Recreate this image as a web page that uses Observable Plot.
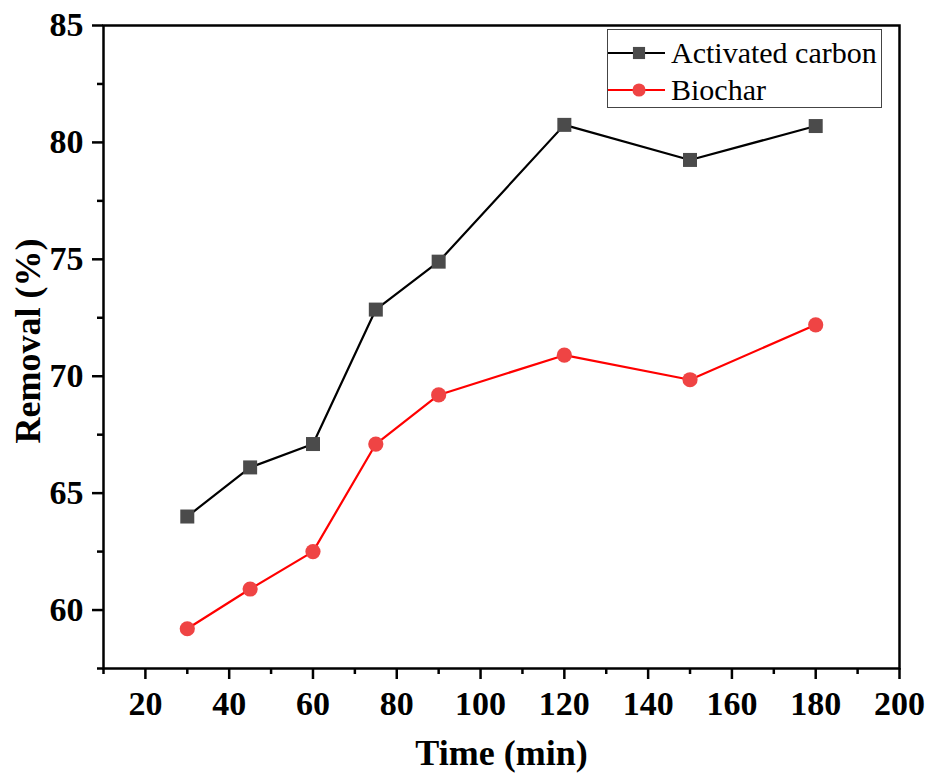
<!DOCTYPE html>
<html>
<head>
<meta charset="utf-8">
<script src="https://cdn.jsdelivr.net/npm/d3@7"></script>
<script src="https://cdn.jsdelivr.net/npm/@observablehq/plot@0.6"></script>
<style>
  html, body { margin: 0; padding: 0; background: #fff; }
  #wrap { position: relative; width: 925px; height: 778px; font-family: "Liberation Serif", "Times New Roman", serif; }
  #legend { position: absolute; left: 607px; top: 29px; width: 273px; height: 77px; border: 1.5px solid #444; background: #fff; box-sizing: content-box; }
  .row { position: absolute; left: 0; height: 36px; display: flex; align-items: center; }
  .row span { font-size: 30px; color: #000; margin-left: 6px; line-height: 1; }
</style>
</head>
<body>
<div id="wrap"><div id="legend"></div></div>
<script>
const time = [30, 45, 60, 75, 90, 120, 150, 180];
const activatedCarbon = [64.0, 66.1, 67.1, 72.85, 74.9, 80.75, 79.25, 80.7];
const biochar = [59.2, 60.9, 62.5, 67.1, 69.2, 70.9, 69.85, 72.2];
const seriesNames = ["Activated carbon", "Biochar"];
const xTicks = [20, 40, 60, 80, 100, 120, 140, 160, 180, 200];
const xMinorTicks = [10, 30, 50, 70, 90, 110, 130, 150, 170, 190];
const yTicks = [60, 65, 70, 75, 80, 85];
const yMinorTicks = [57.5, 62.5, 67.5, 72.5, 77.5, 82.5];
const xTitle = "Time (min)";
const yTitle = "Removal (%)";

const lineColors = ["#000000", "#ff0000"];
const markerFill = ["#4b4b4b", "#ef4444"];
const markerSymbol = ["square", "circle"];
const markerR = [7.9, 7.6];

const rows = [];
time.forEach((t, i) => {
  rows.push({series: seriesNames[0], t, v: activatedCarbon[i]});
  rows.push({series: seriesNames[1], t, v: biochar[i]});
});

const font = "Liberation Serif";
const chart = Plot.plot({
  width: 925,
  height: 778,
  marginLeft: 103,
  marginRight: 26,
  marginTop: 25,
  marginBottom: 110,
  style: {fontFamily: font, background: "#fff", color: "#000"},
  x: {domain: [10, 200]},
  y: {domain: [57.5, 85]},
  marks: [
    Plot.axisX({ticks: xTicks, tickSize: 11, tickPadding: 11, strokeWidth: 2.5, fontSize: 34, fontWeight: "bold", label: null, tickFormat: d => String(d)}),
    Plot.axisX({ticks: xMinorTicks, tickSize: 6, strokeWidth: 2.5, text: null, label: null}),
    Plot.axisY({ticks: yTicks, tickSize: 11, tickPadding: 9, strokeWidth: 2.5, fontSize: 34, fontWeight: "bold", label: null, tickFormat: d => String(d)}),
    Plot.axisY({ticks: yMinorTicks, tickSize: 6, strokeWidth: 2.5, text: null, label: null}),
    Plot.frame({stroke: "#000", strokeWidth: 2.5}),
    ...seriesNames.map((name, k) => Plot.line(rows.filter(d => d.series === name), {x: "t", y: "v", stroke: lineColors[k], strokeWidth: 2.2})),
    ...seriesNames.map((name, k) => Plot.dot(rows.filter(d => d.series === name), {x: "t", y: "v", symbol: markerSymbol[k], r: markerR[k], fill: markerFill[k], stroke: "none"})),
    Plot.text([xTitle], {frameAnchor: "bottom", dy: 96, fontSize: 36, fontWeight: "bold", fill: "#000"}),
    Plot.text([yTitle], {frameAnchor: "left", textAnchor: "middle", dx: -75, dy: -6, rotate: -90, fontSize: 36, fontWeight: "bold", fill: "#000"})
  ]
});
const wrap = document.getElementById("wrap");
wrap.insertBefore(chart, wrap.firstChild);

// legend
const legend = document.getElementById("legend");
seriesNames.forEach((name, k) => {
  const row = document.createElement("div");
  row.className = "row";
  row.style.top = (k === 0 ? 5 : 42) + "px";
  const sw = d3.create("svg").attr("width", 57).attr("height", 20);
  sw.append("line").attr("x1", 0).attr("x2", 57).attr("y1", 10).attr("y2", 10)
    .attr("stroke", lineColors[k]).attr("stroke-width", 2.2);
  sw.append("path").attr("transform", "translate(31,10)")
    .attr("d", d3.symbol(markerSymbol[k] === "square" ? d3.symbolSquare : d3.symbolCircle, Math.PI * markerR[k] * markerR[k] * 0.75)())
    .attr("fill", markerFill[k]);
  row.appendChild(sw.node());
  const label = document.createElement("span");
  label.textContent = name;
  row.appendChild(label);
  legend.appendChild(row);
});
</script>
</body>
</html>
